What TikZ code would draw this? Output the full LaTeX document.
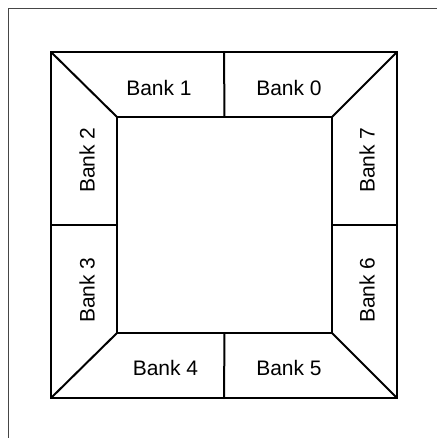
\documentclass[tikz,border=0pt]{standalone}
\usepackage{fontspec}
\setmainfont{Liberation Sans}
\usepackage{xcolor}
\usepackage{tikz}
\usetikzlibrary{calc,positioning}
\definecolor{frameGray}{RGB}{70,70,70}
\definecolor{bankBlack}{RGB}{0,0,0}
\tikzset{
    bankline/.style={bankBlack, line width=2pt, line cap=round, line join=miter},
    banklabel/.style={text=bankBlack, inner sep=0pt, font=\fontsize{21}{25}\selectfont}
}

\begin{document}
\begin{tikzpicture}[x=1pt,y=-1pt]

    \useasboundingbox (0,0) rectangle (437,438);

    % page frame (left and top only)
    \draw[frameGray, line width=1pt] (8.5,438) -- (8.5,8.5) -- (437,8.5);

    % corners of the outer and inner squares
    \coordinate (oTL) at (51,52);
    \coordinate (oTR) at (397,52);
    \coordinate (oBR) at (397,398);
    \coordinate (oBL) at (51,398);
    \coordinate (iTL) at (117,117);
    \coordinate (iTR) at (332,117);
    \coordinate (iBR) at (332,333);
    \coordinate (iBL) at (117,333);

    % outer and inner squares
    \draw[bankline] (oTL) -- (oTR) -- (oBR) -- (oBL) -- cycle;
    \draw[bankline] (iTL) -- (iTR) -- (iBR) -- (iBL) -- cycle;

    % diagonals at the corners
    \draw[bankline] (oTL) -- (iTL);
    \draw[bankline] (oTR) -- (iTR);
    \draw[bankline] (oBR) -- (iBR);
    \draw[bankline] (oBL) -- (iBL);

    % dividers between banks
    \draw[bankline] ($(oTL)!0.5!(oTR)$) -- ($(iTL)!0.5!(iTR)$);
    \draw[bankline] ($(oBL)!0.5!(oBR)$) -- ($(iBL)!0.5!(iBR)$);
    \draw[bankline] ($(oTL)!0.5!(oBL)$) -- ($(iTL)!0.5!(iBL)$);
    \draw[bankline] ($(oTR)!0.5!(oBR)$) -- ($(iTR)!0.5!(iBR)$);

    % bank labels
    \node[banklabel] (bank1) at (159,88) {Bank 1};
    \node[banklabel] (bank0) at (289,88) {Bank 0};
    \node[banklabel, rotate=90] (bank2) at (87,160) {Bank 2};
    \node[banklabel, rotate=90] (bank3) at (87,290) {Bank 3};
    \node[banklabel] (bank4) at (165.5,368) {Bank 4};
    \node[banklabel] (bank5) at (289,368) {Bank 5};
    \node[banklabel, rotate=90] (bank6) at (367,290) {Bank 6};
    \node[banklabel, rotate=90] (bank7) at (367,160) {Bank 7};

\end{tikzpicture}
\end{document}
